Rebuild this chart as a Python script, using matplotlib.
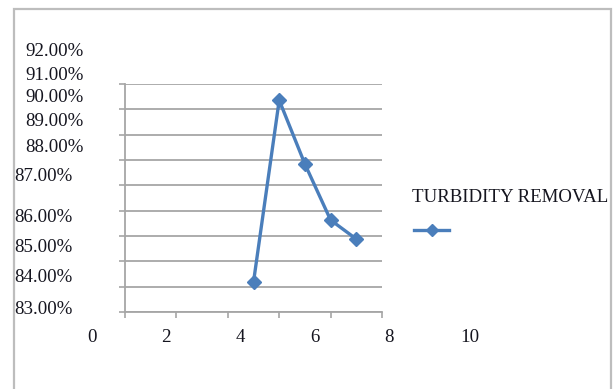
import matplotlib
matplotlib.use("Agg")
import matplotlib.pyplot as plt
from matplotlib.lines import Line2D
from matplotlib.patches import Rectangle

# turbidity removal (%) against x
x_vals = [5, 6, 7, 8, 9]
removal = [84.18, 91.36, 88.84, 86.63, 85.88]

y_labels = ["92.00%", "91.00%", "90.00%", "89.00%", "88.00%",
            "87.00%", "86.00%", "85.00%", "84.00%", "83.00%"]
x_labels = ["0", "2", "4", "6", "8", "10"]
series_name = "TURBIDITY REMOVAL"

plt.rcParams['font.family'] = ['Liberation Serif', 'DejaVu Serif']

fig = plt.figure(figsize=(6.16, 3.89), dpi=100)
W, H = 616, 389
txt_color = '#15151f'
blue = '#4a7ebb'

# frame round the chart
fig.add_artist(Rectangle((14 / W, -0.1), (611 - 14) / W, 1.1 - 9 / H,
                         transform=fig.transFigure, fill=False,
                         edgecolor='#bdbdbd', linewidth=1.6))

ax = fig.add_axes([125 / W, 1 - 312 / H, (382 - 125) / W, (312 - 84) / H])
ax.set_xlim(0, 10)
ax.set_ylim(83, 92)
ax.set_xticks(range(0, 11, 2))
ax.set_yticks(range(83, 93))
ax.set_xticklabels([])
ax.set_yticklabels([])
ax.grid(axis='y', color='#a6a6a6', linewidth=1.3)
ax.tick_params(axis='both', direction='out', length=4, color='#a6a6a6', width=1.2)
for side in ['top', 'right']:
    ax.spines[side].set_visible(False)
for side in ['left', 'bottom']:
    ax.spines[side].set_color('#a6a6a6')
    ax.spines[side].set_linewidth(1.3)

ax.plot(x_vals, removal, color=blue, linewidth=2.4,
        marker='D', markersize=7, markerfacecolor=blue,
        markeredgecolor=blue, zorder=3)

# axis labels sit where the original layout left them
y_label_px = [52, 75, 98, 122, 147, 177, 218, 248, 278, 310]
y_label_x = [25, 25, 25, 25, 25, 14, 14, 14, 14, 14]
for lab, yp, xp in zip(y_labels, y_label_px, y_label_x):
    fig.text(xp / W, 1 - yp / H, lab, fontsize=13.6, color=txt_color,
             ha='left', va='center')

x_label_px = [92, 166, 240, 315, 389, 470]
for lab, xp in zip(x_labels, x_label_px):
    fig.text(xp / W, 1 - 337 / H, lab, fontsize=13.6, color=txt_color,
             ha='center', va='center')

# legend entry
fig.text(412 / W, 1 - 197 / H, series_name, fontsize=13.6, color=txt_color,
         ha='left', va='center')
fig.add_artist(Line2D([414 / W, 449 / W], [1 - 230 / H, 1 - 230 / H],
                      transform=fig.transFigure, color=blue, linewidth=2.4))
fig.add_artist(Line2D([431.5 / W], [1 - 230 / H], transform=fig.transFigure,
                      color=blue, marker='D', markersize=6, linestyle='none'))

fig.savefig('out.png', dpi=100)
